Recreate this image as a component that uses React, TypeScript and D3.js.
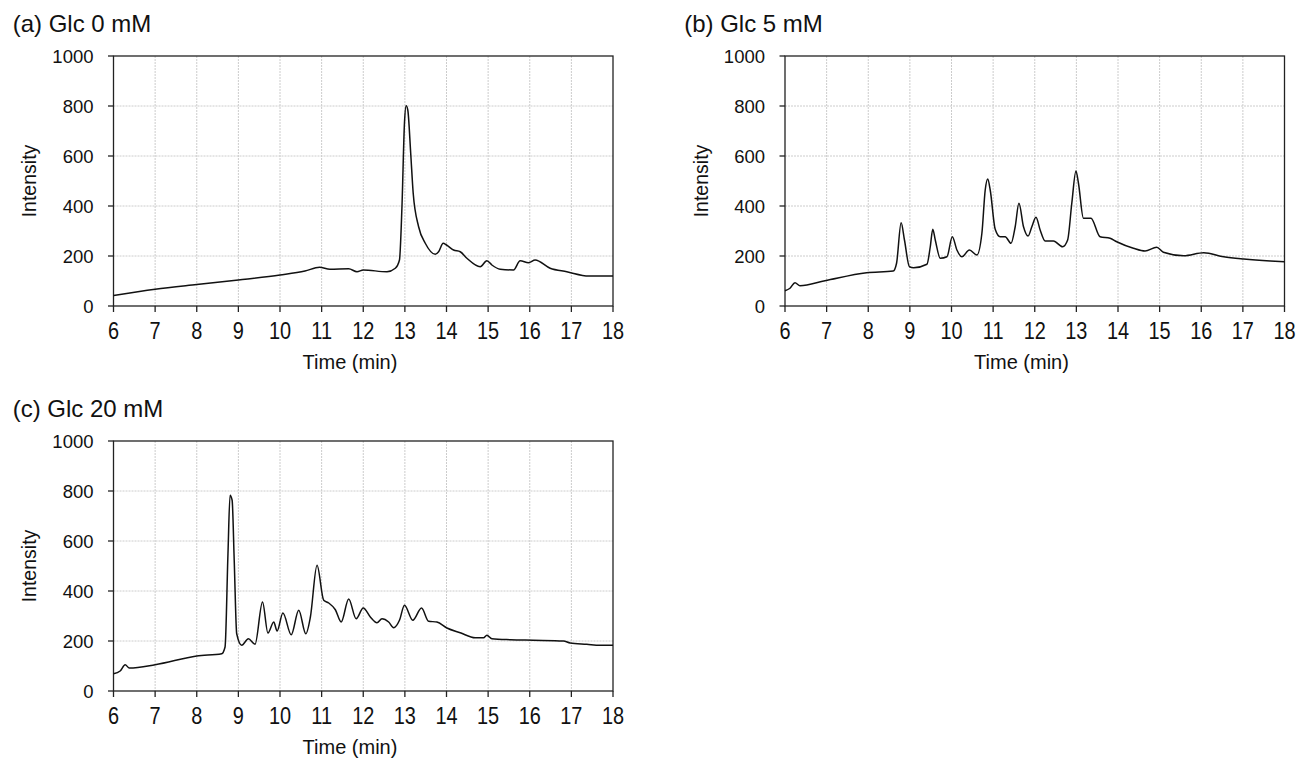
import React from "react";
import * as d3 from "d3";

// ---- Data ----
const timeA = [6.0, 7.0, 8.0, 9.0, 10.0, 10.6, 10.95, 11.2, 11.65, 11.85, 12.0, 12.57, 12.77, 12.87, 12.93, 12.99, 13.03, 13.07, 13.14, 13.2, 13.33, 13.49, 13.73, 13.81, 13.92, 14.0, 14.17, 14.33, 14.49, 14.81, 14.97, 15.09, 15.29, 15.61, 15.77, 15.97, 16.13, 16.49, 16.89, 17.42, 18.0];
const intensityA = [42, 67, 86, 104, 124, 140, 155, 147, 149, 137, 144, 137, 151, 184, 397, 731, 801, 784, 611, 451, 317, 251, 207, 217, 251, 244, 224, 217, 191, 157, 181, 164, 147, 144, 181, 173, 184, 151, 137, 120, 120];

const timeB = [6.0, 6.12, 6.24, 6.36, 6.96, 7.96, 8.6, 8.68, 8.79, 8.87, 8.99, 9.09, 9.41, 9.49, 9.55, 9.61, 9.73, 9.89, 10.02, 10.13, 10.25, 10.43, 10.61, 10.73, 10.81, 10.87, 10.93, 11.05, 11.17, 11.29, 11.43, 11.53, 11.62, 11.73, 11.84, 11.93, 12.03, 12.13, 12.25, 12.45, 12.67, 12.79, 12.89, 12.99, 13.05, 13.17, 13.35, 13.57, 13.81, 13.97, 14.37, 14.65, 14.93, 15.09, 15.58, 16.06, 16.54, 17.02, 17.66, 18.0];
const intensityB = [61, 71, 93, 81, 101, 133, 140, 171, 333, 264, 157, 153, 167, 237, 307, 264, 191, 197, 277, 224, 197, 224, 204, 291, 464, 508, 464, 307, 277, 277, 251, 317, 411, 317, 280, 317, 355, 304, 260, 260, 237, 264, 411, 540, 491, 351, 351, 277, 271, 257, 231, 220, 235, 215, 201, 213, 197, 188, 180, 177];

const timeC = [6.0, 6.16, 6.28, 6.38, 7.0, 8.0, 8.6, 8.68, 8.75, 8.8, 8.85, 8.9, 8.96, 9.08, 9.24, 9.4, 9.58, 9.71, 9.85, 9.93, 10.07, 10.27, 10.45, 10.62, 10.73, 10.89, 11.05, 11.17, 11.33, 11.47, 11.65, 11.83, 12.0, 12.17, 12.33, 12.45, 12.61, 12.73, 12.87, 12.99, 13.19, 13.4, 13.57, 13.77, 14.01, 14.33, 14.69, 14.89, 14.97, 15.09, 15.54, 16.09, 16.81, 16.97, 17.37, 17.69, 18.0];
const intensityC = [69, 80, 105, 92, 105, 140, 149, 176, 549, 783, 763, 523, 229, 183, 209, 187, 356, 232, 276, 240, 312, 225, 323, 229, 296, 503, 363, 352, 325, 276, 368, 289, 332, 296, 273, 289, 276, 253, 283, 343, 283, 332, 279, 276, 252, 233, 213, 213, 223, 209, 205, 203, 200, 192, 187, 183, 183];

const xTicks = [6, 7, 8, 9, 10, 11, 12, 13, 14, 15, 16, 17, 18];
const yTicks = [0, 200, 400, 600, 800, 1000];
const titles = ["(a) Glc 0 mM", "(b) Glc 5 mM", "(c) Glc 20 mM"];

const FONT = "Arial, 'Liberation Sans', Helvetica, sans-serif";

type PanelProps = {
  left: number;
  top: number;
  title: string;
  time: number[];
  intensity: number[];
};

const PLOT_W = 499.5;
const PLOT_H = 250;

function Panel({ left, top, title, time, intensity }: PanelProps) {
  const x = d3.scaleLinear().domain([6, 18]).range([left, left + PLOT_W]);
  const y = d3.scaleLinear().domain([0, 1000]).range([top + PLOT_H, top]);
  const pts: [number, number][] = time.map((t, i) => [t, intensity[i]]);
  const line = d3
    .line<[number, number]>()
    .x((d) => x(d[0]))
    .y((d) => y(d[1]))
    .curve(d3.curveMonotoneX);
  const bottom = top + PLOT_H;
  const right = left + PLOT_W;
  return (
    <g fontFamily={FONT} fill="#111">
      <text x={left - 100.8} y={top - 24.3} fontSize={24}>
        {title}
      </text>
      {/* grid */}
      {xTicks.slice(1, -1).map((t) => (
        <line key={"gx" + t} x1={x(t)} x2={x(t)} y1={top} y2={bottom} stroke="#cccccc" strokeWidth={1} strokeDasharray="2,1" />
      ))}
      {yTicks.slice(1, -1).map((t) => (
        <line key={"gy" + t} x1={left} x2={right} y1={y(t)} y2={y(t)} stroke="#cccccc" strokeWidth={1} strokeDasharray="2,1" />
      ))}
      {/* frame */}
      <rect x={left} y={top} width={PLOT_W} height={PLOT_H} fill="none" stroke="#222" strokeWidth={1.3} />
      {/* data */}
      <path d={line(pts) || ""} fill="none" stroke="#111" strokeWidth={1.5} strokeLinejoin="round" />
      {/* y ticks */}
      {yTicks.map((t) => (
        <g key={"yt" + t}>
          <line x1={left - 5.5} x2={left} y1={y(t)} y2={y(t)} stroke="#222" strokeWidth={1.3} />
          <text x={left - 20} y={y(t)} dy="0.36em" textAnchor="end" fontSize={18.5}>
            {t}
          </text>
        </g>
      ))}
      {/* x ticks */}
      {xTicks.map((t) => (
        <g key={"xt" + t}>
          <line x1={x(t)} x2={x(t)} y1={bottom} y2={bottom + 6} stroke="#222" strokeWidth={1.3} />
          <text
            transform={`translate(${x(t)},${bottom + 32.7}) scale(0.83,1)`}
            textAnchor="middle"
            fontSize={24}
          >
            {t}
          </text>
        </g>
      ))}
      <text x={left + 236.5} y={bottom + 63.3} textAnchor="middle" fontSize={20}>
        Time (min)
      </text>
      <text
        transform={`translate(${left - 77.5},${top + PLOT_H / 2}) rotate(-90)`}
        textAnchor="middle"
        fontSize={19.5}
      >
        Intensity
      </text>
    </g>
  );
}

export default function App() {
  return (
    <svg
      width={1298}
      height={758}
      style={{ position: "absolute", left: 0, top: 0, background: "#fff" }}
    >
      <rect width={1298} height={758} fill="#fff" />
      <Panel left={113.5} top={56} title={titles[0]} time={timeA} intensity={intensityA} />
      <Panel left={785} top={56} title={titles[1]} time={timeB} intensity={intensityB} />
      <Panel left={113.5} top={441} title={titles[2]} time={timeC} intensity={intensityC} />
    </svg>
  );
}
